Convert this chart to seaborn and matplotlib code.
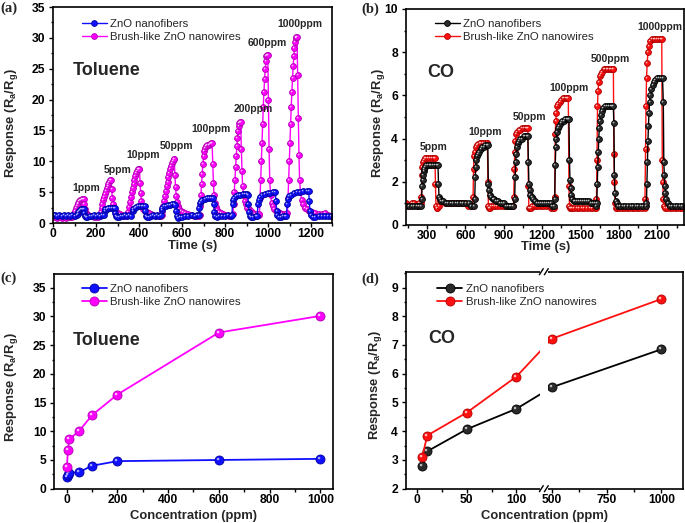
import numpy as np
import pandas as pd
import matplotlib
matplotlib.use("Agg")
import matplotlib.pyplot as plt
import seaborn as sns
from matplotlib.ticker import MultipleLocator, FixedLocator
from matplotlib.patches import Rectangle
from matplotlib.path import Path
from matplotlib.markers import MarkerStyle

# ---------------- data ----------------
# (a) toluene dynamic response, (time s, response)
tol_fiber = [
    (0, 1.3), (10, 1.3), (20, 1.2), (30, 1.3), (40, 1.2), (50, 1.3), (60, 1.2), (70, 1.3), (80, 1.2), (90, 1.3), (100, 1.2), (110, 1.3), (116, 1.4),
    (118, 1.8), (121, 2.0), (125, 2.1), (130, 2.2), (135, 2.2), (140, 2.2), (144, 2.2), (146, 1.6), (149, 1.1), (153, 0.9), (160, 1.0), (170, 1.2), (180, 1.2), (190, 1.3), (200, 1.2), (210, 1.3), (220, 1.2), (230, 1.3), (238, 1.3),
    (241, 1.9), (244, 2.2), (250, 2.3), (258, 2.4), (266, 2.5), (274, 2.5), (282, 2.5), (287, 2.5), (290, 1.7), (293, 1.1), (298, 0.9), (305, 1.0), (315, 1.2), (325, 1.2), (335, 1.3), (345, 1.2), (355, 1.3), (365, 1.2),
    (370, 2.0), (373, 2.3), (380, 2.5), (388, 2.6), (396, 2.7), (404, 2.7), (412, 2.8), (420, 2.8), (426, 2.8), (429, 1.9), (432, 1.2), (437, 0.9), (445, 1.0), (455, 1.2), (465, 1.3), (475, 1.2), (485, 1.3), (495, 1.2), (502, 1.3),
    (505, 2.1), (508, 2.5), (515, 2.7), (525, 2.8), (535, 2.9), (545, 2.9), (555, 3.0), (563, 3.0), (569, 2.9), (572, 2.0), (575, 1.2), (580, 0.8), (590, 0.9), (600, 1.0), (615, 1.1), (630, 1.2), (645, 1.3), (660, 1.2), (672, 1.3), (678, 1.3),
    (681, 2.5), (684, 3.2), (688, 3.6), (695, 3.8), (705, 3.9), (715, 4.0), (725, 4.0), (735, 4.0), (745, 4.0), (748, 3.0), (751, 1.8), (755, 1.2), (762, 1.0), (772, 1.1), (785, 1.2), (800, 1.2), (815, 1.3), (828, 1.2), (832, 1.3),
    (835, 3.0), (838, 3.8), (843, 4.1), (852, 4.3), (862, 4.5), (872, 4.6), (882, 4.7), (892, 4.7), (902, 4.7), (906, 4.6), (909, 3.0), (912, 1.8), (916, 1.2), (922, 1.0), (932, 1.0), (942, 1.1), (950, 1.2),
    (953, 3.0), (956, 3.8), (962, 4.2), (972, 4.5), (985, 4.7), (998, 4.8), (1010, 4.9), (1022, 5.0), (1034, 5.0), (1037, 3.5), (1040, 2.0), (1044, 1.3), (1050, 1.0), (1060, 1.0), (1070, 1.1), (1080, 1.2), (1086, 1.2),
    (1089, 3.0), (1092, 3.9), (1098, 4.3), (1108, 4.6), (1120, 4.8), (1135, 5.0), (1150, 5.1), (1165, 5.2), (1180, 5.2), (1189, 5.2), (1192, 3.5), (1195, 2.0), (1200, 1.3), (1208, 1.0), (1220, 1.0), (1235, 1.1), (1250, 1.1), (1265, 1.1), (1280, 1.1), (1295, 1.1),
]
tol_wire = [
    (0, 0.9), (10, 0.9), (20, 0.8), (30, 0.9), (40, 0.8), (50, 0.9), (60, 0.8), (70, 0.9), (80, 0.9), (88, 1.0),
    (94, 1.2), (98, 1.6), (102, 2.0), (106, 2.4), (110, 2.8), (114, 3.1), (118, 3.3), (122, 3.5), (126, 3.7), (130, 3.8), (134, 3.9), (138, 3.9), (142, 3.9), (145, 3.0), (148, 2.2), (152, 1.7), (157, 1.4), (163, 1.3), (170, 1.2), (180, 1.1), (190, 1.0), (200, 1.0), (210, 1.0),
    (218, 1.2), (222, 1.8), (226, 2.5), (230, 3.1), (234, 3.7), (238, 4.2), (242, 4.7), (246, 5.2), (250, 5.6), (254, 6.0), (258, 6.4), (262, 6.7), (266, 6.9), (270, 6.9), (273, 5.5), (276, 4.0), (279, 3.0), (283, 2.4), (288, 2.0), (295, 1.8), (303, 1.6), (312, 1.4), (322, 1.3), (332, 1.2), (340, 1.1),
    (345, 1.3), (350, 1.8), (355, 2.6), (359, 3.4), (363, 4.2), (367, 5.0), (371, 5.7), (375, 6.4), (379, 7.0), (383, 7.6), (387, 8.1), (391, 8.5), (395, 8.7), (399, 8.7), (402, 8.7), (405, 6.5), (408, 4.8), (411, 3.6), (415, 2.8), (420, 2.3), (427, 2.0), (435, 1.8), (445, 1.6), (455, 1.4), (467, 1.3), (480, 1.2), (492, 1.1), (500, 1.1),
    (505, 1.3), (509, 2.0), (513, 2.8), (517, 3.6), (521, 4.4), (525, 5.2), (529, 6.0), (533, 6.7), (537, 7.4), (541, 8.1), (545, 8.7), (549, 9.3), (553, 9.8), (557, 10.1), (561, 10.3), (564, 10.3), (567, 7.8), (570, 5.8), (573, 4.4), (577, 3.4), (582, 2.7), (588, 2.3), (596, 2.0), (605, 1.8), (615, 1.6), (627, 1.4), (640, 1.3), (655, 1.2), (668, 1.1), (677, 1.1),
    (682, 1.3), (685, 2.8), (688, 4.5), (691, 6.3), (694, 8.0), (697, 9.5), (700, 10.8), (703, 11.7), (707, 12.2), (712, 12.5), (718, 12.6), (724, 12.7), (730, 12.8), (736, 12.9), (740, 12.9), (743, 9.5), (746, 6.5), (749, 4.5), (753, 3.3), (758, 2.6), (765, 2.1), (773, 1.8), (782, 1.6), (792, 1.4), (805, 1.3), (818, 1.2), (830, 1.2),
    (837, 1.4), (840, 3.0), (843, 5.0), (846, 7.0), (849, 9.0), (852, 10.8), (855, 12.4), (858, 13.8), (861, 14.9), (864, 15.7), (867, 16.2), (870, 16.4), (873, 16.4), (876, 12.0), (879, 8.5), (882, 6.0), (886, 4.5), (891, 3.6), (897, 3.0), (904, 2.5), (912, 2.2), (920, 1.9), (930, 1.7), (940, 1.5), (950, 1.4), (957, 1.3),
    (960, 1.5), (963, 4.0), (966, 7.0), (969, 10.0), (972, 13.0), (975, 16.0), (978, 18.8), (981, 21.3), (984, 23.3), (987, 25.0), (990, 26.2), (993, 27.0), (996, 27.2), (999, 27.2), (1002, 20.0), (1005, 12.0), (1008, 7.0), (1012, 4.5), (1017, 3.3), (1023, 2.7), (1030, 2.3), (1038, 2.0), (1047, 1.8), (1056, 1.6), (1066, 1.5), (1076, 1.4), (1085, 1.4),
    (1090, 1.6), (1093, 4.0), (1096, 7.0), (1099, 10.0), (1102, 13.0), (1105, 16.0), (1108, 18.8), (1111, 21.3), (1114, 23.5), (1117, 25.4), (1120, 27.0), (1123, 28.3), (1126, 29.3), (1129, 29.9), (1132, 30.2), (1135, 30.2), (1138, 24.0), (1141, 17.0), (1144, 11.0), (1147, 7.0), (1151, 5.0), (1156, 3.8), (1162, 3.0), (1170, 2.5), (1180, 2.2), (1192, 2.0), (1205, 1.8), (1220, 1.6), (1235, 1.5), (1250, 1.4), (1265, 1.6), (1280, 1.3), (1295, 1.2),
]
tol_labels = ["1ppm", "5ppm", "10ppm", "50ppm", "100ppm", "200ppm", "600ppm", "1000ppm"]

# (b) CO dynamic response, (time s, response)
co_fiber = [
    (140, 0.9), (160, 0.9), (180, 0.9), (200, 0.9), (220, 0.9), (240, 0.9), (252, 0.9),
    (258, 1.2), (262, 1.8), (266, 2.1), (270, 2.3), (275, 2.5), (280, 2.6), (286, 2.7), (293, 2.8), (305, 2.8), (320, 2.8), (335, 2.8), (350, 2.8), (365, 2.8), (378, 2.8), (386, 2.8), (390, 1.9), (394, 1.3), (400, 1.2), (410, 1.1), (425, 1.1), (445, 1.0), (465, 1.0), (485, 1.0), (505, 1.0), (525, 1.0), (545, 1.0), (565, 1.0), (585, 1.0), (605, 1.0), (625, 1.0), (645, 0.9), (665, 0.9),
    (673, 1.2), (677, 2.2), (681, 2.7), (686, 3.0), (692, 3.2), (700, 3.3), (710, 3.4), (720, 3.5), (732, 3.6), (745, 3.6), (757, 3.7), (768, 3.7), (775, 3.7), (779, 1.9), (783, 1.6), (790, 1.4), (800, 1.3), (812, 1.2), (825, 1.2), (840, 1.1), (855, 1.1), (870, 1.0), (885, 1.0), (900, 1.0), (915, 0.9), (930, 0.9), (945, 0.9), (960, 0.9), (975, 0.9),
    (985, 1.2), (989, 2.2), (993, 2.9), (997, 3.3), (1002, 3.6), (1010, 3.8), (1020, 3.9), (1030, 4.0), (1042, 4.0), (1055, 4.1), (1068, 4.1), (1080, 4.1), (1088, 4.1), (1092, 2.9), (1096, 1.9), (1101, 1.6), (1108, 1.4), (1118, 1.3), (1130, 1.2), (1145, 1.1), (1160, 1.0), (1175, 1.0), (1190, 1.0), (1205, 1.0), (1220, 1.0), (1235, 1.0), (1250, 1.0), (1265, 1.0), (1280, 0.9), (1292, 0.9),
    (1298, 1.2), (1302, 2.8), (1306, 3.6), (1311, 4.0), (1318, 4.3), (1326, 4.5), (1335, 4.6), (1345, 4.7), (1356, 4.8), (1368, 4.8), (1380, 4.9), (1392, 4.9), (1402, 4.9), (1409, 4.9), (1413, 3.0), (1417, 2.1), (1422, 1.7), (1428, 1.4), (1435, 1.2), (1445, 1.1), (1460, 1.1), (1475, 1.1), (1490, 1.1), (1505, 1.1), (1520, 1.1), (1535, 1.1), (1550, 1.1), (1565, 1.1), (1580, 1.0), (1595, 1.0), (1610, 1.0), (1620, 0.9),
    (1626, 1.0), (1630, 1.9), (1634, 2.7), (1638, 3.4), (1642, 4.0), (1646, 4.5), (1651, 4.8), (1658, 5.1), (1667, 5.3), (1678, 5.4), (1690, 5.5), (1705, 5.5), (1720, 5.5), (1735, 5.5), (1748, 5.5), (1756, 5.5), (1760, 4.7), (1764, 2.3), (1768, 1.5), (1774, 1.1), (1782, 1.0), (1795, 0.9), (1810, 0.9), (1830, 0.9), (1850, 0.9), (1870, 0.9), (1890, 0.9), (1910, 0.9), (1930, 0.9), (1950, 0.9), (1970, 0.9), (1990, 0.9), (2008, 0.9),
    (2014, 1.0), (2018, 1.9), (2022, 2.9), (2026, 3.9), (2030, 4.6), (2034, 5.2), (2039, 5.7), (2045, 6.0), (2053, 6.3), (2062, 6.5), (2073, 6.6), (2085, 6.7), (2098, 6.8), (2112, 6.8), (2126, 6.8), (2140, 6.8), (2146, 5.7), (2150, 2.9), (2154, 2.3), (2158, 1.8), (2163, 1.5), (2170, 1.2), (2180, 1.0), (2195, 0.9), (2215, 0.9), (2235, 0.9), (2255, 0.9), (2275, 0.9), (2295, 0.9),
]
co_wire = [
    (140, 1.0), (160, 0.9), (180, 1.0), (200, 1.0), (220, 0.9), (240, 1.0), (252, 1.0),
    (256, 1.3), (260, 2.3), (264, 2.7), (269, 2.9), (275, 3.0), (284, 3.1), (295, 3.1), (310, 3.1), (325, 3.1), (340, 3.1), (355, 3.1), (362, 3.1), (366, 1.9), (370, 0.9), (375, 0.8), (382, 0.8), (392, 0.9), (405, 1.1), (420, 1.1), (440, 1.0), (460, 1.0), (480, 1.0), (500, 1.0), (520, 1.0), (540, 1.0), (560, 1.0), (580, 1.0), (600, 1.0), (620, 0.9), (640, 0.9), (655, 0.9),
    (660, 1.3), (664, 2.6), (668, 3.2), (673, 3.4), (680, 3.6), (690, 3.7), (700, 3.75), (712, 3.8), (725, 3.8), (740, 3.8), (755, 3.8), (766, 3.8), (772, 3.8), (776, 2.0), (780, 0.9), (785, 0.8), (792, 0.8), (802, 0.9), (815, 0.9), (830, 0.9), (850, 0.9), (870, 0.9), (890, 0.9), (910, 0.9), (930, 0.9), (950, 0.9), (965, 0.9), (975, 0.9),
    (978, 1.3), (982, 2.6), (986, 3.4), (991, 3.9), (997, 4.2), (1005, 4.3), (1015, 4.4), (1028, 4.4), (1042, 4.5), (1056, 4.5), (1070, 4.5), (1082, 4.5), (1088, 4.5), (1092, 1.8), (1096, 0.8), (1102, 0.8), (1110, 0.8), (1120, 0.9), (1135, 0.9), (1150, 0.9), (1170, 0.9), (1190, 0.9), (1210, 0.9), (1230, 0.9), (1250, 0.9), (1270, 0.8), (1285, 0.8), (1295, 0.8),
    (1298, 1.3), (1302, 4.2), (1306, 4.8), (1311, 5.2), (1318, 5.5), (1326, 5.6), (1336, 5.7), (1348, 5.8), (1360, 5.9), (1372, 5.9), (1384, 5.9), (1396, 5.9), (1404, 5.9), (1409, 1.8), (1413, 0.9), (1418, 0.8), (1425, 0.8), (1435, 0.8), (1450, 0.8), (1470, 0.8), (1490, 0.8), (1510, 0.8), (1530, 0.8), (1550, 0.8), (1570, 0.8), (1590, 0.8), (1610, 0.8), (1620, 0.8),
    (1624, 1.2), (1628, 3.0), (1632, 5.5), (1636, 6.2), (1641, 6.6), (1648, 6.9), (1657, 7.0), (1668, 7.1), (1680, 7.2), (1692, 7.2), (1704, 7.2), (1716, 7.2), (1728, 7.2), (1740, 7.2), (1750, 7.2), (1756, 7.2), (1760, 3.3), (1764, 2.0), (1768, 1.0), (1774, 0.8), (1785, 0.8), (1800, 0.8), (1820, 0.8), (1840, 0.8), (1860, 0.8), (1880, 0.8), (1900, 0.8), (1920, 0.8), (1940, 0.8), (1960, 0.8), (1980, 0.8), (2000, 0.8),
    (2003, 1.2), (2007, 3.5), (2011, 5.5), (2015, 6.8), (2020, 7.5), (2026, 8.0), (2033, 8.3), (2042, 8.5), (2055, 8.6), (2070, 8.6), (2085, 8.6), (2100, 8.6), (2115, 8.6), (2128, 8.6), (2134, 8.6), (2138, 3.0), (2142, 2.0), (2146, 1.2), (2152, 0.9), (2160, 0.8), (2175, 0.8), (2195, 0.8), (2215, 0.8), (2235, 0.8), (2255, 0.8), (2275, 0.8), (2295, 0.8),
]
co_labels = ["5ppm", "10ppm", "50ppm", "100ppm", "500ppm", "1000ppm"]

# (c) toluene response vs concentration
tol_conc = [1, 5, 10, 50, 100, 200, 600, 1000]
tol_fiber_resp = [2.0, 2.4, 2.7, 2.9, 4.0, 4.8, 5.0, 5.2]
tol_wire_resp = [3.8, 6.7, 8.6, 10.1, 12.8, 16.4, 27.2, 30.1]

# (d) CO response vs concentration
co_conc = [5, 10, 50, 100, 500, 1000]
co_fiber_resp = [2.78, 3.3, 4.07, 4.78, 5.53, 6.85]
co_wire_resp = [3.1, 3.85, 4.65, 5.9, 7.22, 8.6]

FIBER = "ZnO nanofibers"
WIRE = "Brush-like ZnO nanowires"

# text anchors for the concentration labels (data coords)
tol_label_pos = [(156, 5.7), (301, 8.6), (419, 11.0), (576, 12.4), (733, 15.2), (933, 18.5), (996, 29.1), (1147, 32.2)]
co_label_pos = [(355, 3.63), (753, 4.32), (1102, 4.98), (1412, 6.36), (1735, 7.67), (2120, 9.18)]

# ---------------- style ----------------
sns.set_theme(style="ticks")
plt.rcParams['font.family'] = ['Liberation Sans', 'DejaVu Sans']
plt.rcParams['font.weight'] = 'bold'
plt.rcParams['mathtext.fontset'] = 'custom'
plt.rcParams['mathtext.rm'] = 'Liberation Sans:bold'
plt.rcParams['mathtext.it'] = 'Liberation Sans:bold'
plt.rcParams['axes.linewidth'] = 1.2

MAG, BLUE, RED, BLACK = "#ff00ff", "#1010ff", "#ff1010", "#000000"
EDGE = {MAG: "#b000b0", BLUE: "#0000a0", RED: "#b00000", BLACK: "#000000"}
FACE = {MAG: MAG, BLUE: BLUE, RED: RED, BLACK: "#2a2a2a"}
SHINE = {MAG: "#ffc8ff", BLUE: "#a8a8ff", RED: "#ffc0c0", BLACK: "#bdbdbd"}
YLAB = r"Response (R$_{\rm a}$/R$_{\rm g}$)"
LABSIZE = 9.4

# small off-centre spot so the round markers read as shaded balls
_c = Path.circle(center=(-0.32, 0.32), radius=0.28)
SPOT = MarkerStyle(Path(np.vstack([[[1, 1], [-1, -1]], _c.vertices]),
                        np.concatenate([[Path.MOVETO, Path.MOVETO], _c.codes])))


def draw(ax, x, y, color, label, ms, lw):
    sns.lineplot(x=x, y=y, ax=ax, color=color, label=label, marker="o",
                 markersize=ms, markerfacecolor=FACE[color], markeredgecolor=EDGE[color],
                 markeredgewidth=0.6, linewidth=lw, estimator=None, sort=False)
    sns.lineplot(x=x, y=y, ax=ax, color=SHINE[color], marker=SPOT, markersize=ms,
                 markeredgewidth=0, linestyle="", estimator=None, sort=False)


def style(ax):
    for s in ax.spines.values():
        s.set_linewidth(1.2)
        s.set_color("black")
    ax.tick_params(which="both", direction="out", width=1.0, colors="black", labelsize=8.7)
    ax.tick_params(which="major", length=3)
    ax.tick_params(which="minor", length=1.8)
    ax.tick_params(axis="x", which="both", pad=0.8)
    ax.tick_params(axis="y", which="both", pad=2.5)
    for lab in ax.get_xticklabels() + ax.get_yticklabels():
        lab.set_fontweight("bold")


def legend(ax, order, x, y):
    h, l = ax.get_legend_handles_labels()
    hd = dict(zip(l, h))
    ax.legend([hd[k] for k in order], order, loc="upper left", bbox_to_anchor=(x, y),
              frameon=False, borderpad=0, borderaxespad=0, handlelength=2.2,
              handletextpad=0.3, labelspacing=0.25, prop={"size": 8.2, "weight": "normal"})


fig = plt.figure(figsize=(6.85, 5.23), dpi=100)
ax_a = fig.add_axes([0.0774, 0.5736, 0.408, 0.413])
ax_b = fig.add_axes([0.5923, 0.5698, 0.4063, 0.413])
ax_c = fig.add_axes([0.0788, 0.0656, 0.4073, 0.4105])
ax_d = fig.add_axes([0.5923, 0.0656, 0.4048, 0.4149])

# ---- (a) ----
wa = pd.DataFrame(tol_wire, columns=["t", "r"])
fa = pd.DataFrame(tol_fiber, columns=["t", "r"])
draw(ax_a, wa["t"], wa["r"], MAG, WIRE, 4.2, 1.0)
draw(ax_a, fa["t"], fa["r"], BLUE, FIBER, 4.2, 1.0)
ax_a.set_xlim(0, 1300)
ax_a.set_ylim(0, 35)
ax_a.xaxis.set_major_locator(MultipleLocator(200))
ax_a.xaxis.set_minor_locator(MultipleLocator(100))
ax_a.yaxis.set_major_locator(MultipleLocator(5))
ax_a.yaxis.set_minor_locator(MultipleLocator(2.5))
for txt, (tx, ty) in zip(tol_labels, tol_label_pos):
    ax_a.text(tx, ty, txt, ha="center", va="center", fontsize=7.5, fontweight="bold")
ax_a.text(0.071, 0.708, "Toluene", transform=ax_a.transAxes, fontsize=13, fontweight="bold", va="center")
legend(ax_a, [FIBER, WIRE], 0.1025, 0.945)
ax_a.set_xlabel("Time (s)", fontsize=LABSIZE, fontweight="bold")
ax_a.set_ylabel(YLAB, fontsize=LABSIZE, fontweight="bold")
ax_a.xaxis.set_label_coords(0.5, -0.078)
ax_a.yaxis.set_label_coords(-0.118, 0.46)

# ---- (b) ----
wb = pd.DataFrame(co_wire, columns=["t", "r"])
fb = pd.DataFrame(co_fiber, columns=["t", "r"])
draw(ax_b, wb["t"], wb["r"], RED, WIRE, 4.2, 1.0)
draw(ax_b, fb["t"], fb["r"], BLACK, FIBER, 4.2, 1.0)
ax_b.set_xlim(134, 2308)
ax_b.set_ylim(0, 10)
ax_b.xaxis.set_major_locator(MultipleLocator(300))
ax_b.xaxis.set_minor_locator(MultipleLocator(150))
ax_b.yaxis.set_major_locator(MultipleLocator(2))
ax_b.yaxis.set_minor_locator(MultipleLocator(1))
for txt, (tx, ty) in zip(co_labels, co_label_pos):
    ax_b.text(tx, ty, txt, ha="center", va="center", fontsize=7.5, fontweight="bold")
ax_b.text(0.077, 0.708, "CO", transform=ax_b.transAxes, fontsize=13, fontweight="bold", va="center")
legend(ax_b, [FIBER, WIRE], 0.105, 0.955)
ax_b.set_xlabel("Time (s)", fontsize=LABSIZE, fontweight="bold")
ax_b.set_ylabel(YLAB, fontsize=LABSIZE, fontweight="bold")
ax_b.xaxis.set_label_coords(0.504, -0.074)
ax_b.yaxis.set_label_coords(-0.068, 0.47)

# ---- (c) ----
draw(ax_c, tol_conc, tol_fiber_resp, BLUE, FIBER, 6.5, 1.3)
draw(ax_c, tol_conc, tol_wire_resp, MAG, WIRE, 6.5, 1.3)
ax_c.set_xlim(-50, 1050)
ax_c.set_ylim(0, 37.4)
ax_c.xaxis.set_major_locator(MultipleLocator(200))
ax_c.xaxis.set_minor_locator(MultipleLocator(100))
ax_c.yaxis.set_major_locator(MultipleLocator(5))
ax_c.yaxis.set_minor_locator(MultipleLocator(2.5))
ax_c.text(0.067, 0.69, "Toluene", transform=ax_c.transAxes, fontsize=13, fontweight="bold", va="center")
legend(ax_c, [FIBER, WIRE], 0.099, 0.954)
ax_c.set_xlabel("Concentration (ppm)", fontsize=LABSIZE, fontweight="bold")
ax_c.set_ylabel(YLAB, fontsize=LABSIZE, fontweight="bold")
ax_c.xaxis.set_label_coords(0.5, -0.1)
ax_c.yaxis.set_label_coords(-0.122, 0.475)

# ---- (d) broken x axis via a piecewise scale ----
c1, c2, gap_slope, r = 127.5, 463.5, 0.001, 0.2208


def fwd(x):
    x = np.asarray(x, dtype=float)
    return np.where(x <= c1, x, np.where(x >= c2, c1 + (c2 - c1) * gap_slope + (x - c2) * r,
                                         c1 + (x - c1) * gap_slope))


def inv(y):
    y = np.asarray(y, dtype=float)
    y2 = c1 + (c2 - c1) * gap_slope
    return np.where(y <= c1, y, np.where(y >= y2, c2 + (y - y2) / r, c1 + (y - c1) / gap_slope))


ax_d.set_xscale("function", functions=(fwd, inv))
draw(ax_d, co_conc, co_fiber_resp, BLACK, FIBER, 6.5, 1.3)
draw(ax_d, co_conc, co_wire_resp, RED, WIRE, 6.5, 1.3)
ax_d.set_xlim(-11.7, 1099)
ax_d.set_ylim(2, 9.55)
ax_d.xaxis.set_major_locator(FixedLocator([0, 50, 100, 500, 750, 1000]))
ax_d.xaxis.set_minor_locator(FixedLocator([25, 75, 625, 875]))
ax_d.yaxis.set_major_locator(MultipleLocator(1))
ax_d.yaxis.set_minor_locator(MultipleLocator(0.5))
lo, hi = fwd(-11.7), fwd(1099)
bx = float((fwd(300) - lo) / (hi - lo))
ax_d.add_patch(Rectangle((bx - 0.014, -0.02), 0.028, 1.04, transform=ax_d.transAxes,
                         facecolor="white", edgecolor="none", clip_on=False, zorder=5))
for yy in (0.0, 1.0):
    for dx in (-0.009, 0.009):
        ax_d.plot([bx + dx - 0.007, bx + dx + 0.007], [yy - 0.014, yy + 0.014], color="black",
                  lw=1.0, transform=ax_d.transAxes, clip_on=False, zorder=6)
ax_d.text(0.081, 0.693, "CO", transform=ax_d.transAxes, fontsize=13, fontweight="bold", va="center")
legend(ax_d, [FIBER, WIRE], 0.114, 0.944)
ax_d.set_xlabel("Concentration (ppm)", fontsize=LABSIZE, fontweight="bold")
ax_d.set_ylabel(YLAB, fontsize=LABSIZE, fontweight="bold")
ax_d.xaxis.set_label_coords(0.499, -0.1)
ax_d.yaxis.set_label_coords(-0.078, 0.478)

for ax in (ax_a, ax_b, ax_c, ax_d):
    style(ax)

for txt, x, y in [("(a)", 0.0, 0.998), ("(b)", 0.528, 0.996), ("(c)", 0.0, 0.48), ("(d)", 0.527, 0.478)]:
    fig.text(x, y, txt, family=["Liberation Serif", "DejaVu Serif"], fontsize=10.5,
             fontweight="bold", va="top", ha="left")

fig.savefig("out.png", dpi=100)
